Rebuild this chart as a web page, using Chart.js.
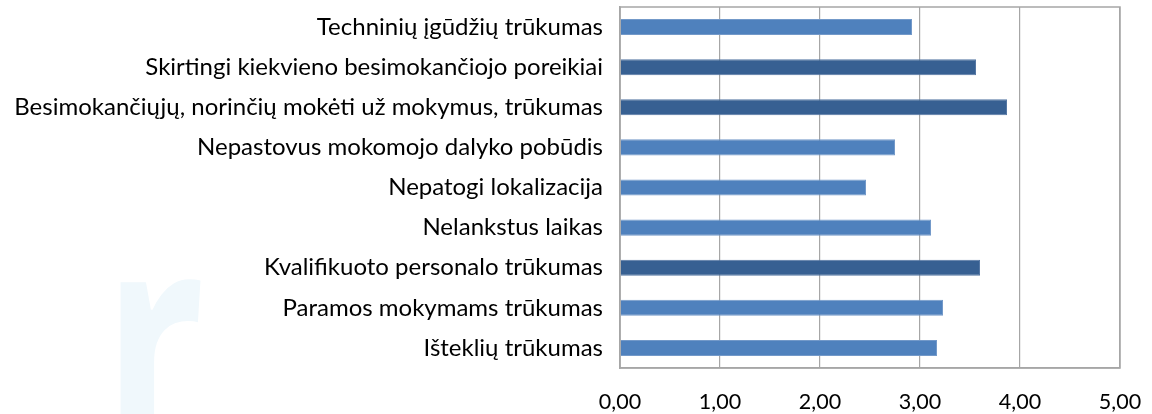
<!DOCTYPE html>
<html>
<head>
<meta charset="utf-8">
<script src="https://cdn.jsdelivr.net/npm/chart.js@4/dist/chart.umd.min.js"></script>
<style>
    html, body { margin: 0; padding: 0; background: #fff; }
    #wrap { width: 1152px; height: 414px; position: relative; }
</style>
</head>
<body>
<div id="wrap"><canvas id="chart"></canvas></div>
<script>
// kategorijos (iš viršaus į apačią)
const labels = [
    "Techninių įgūdžių trūkumas",
    "Skirtingi kiekvieno besimokančiojo poreikiai",
    "Besimokančiųjų, norinčių mokėti už mokymus, trūkumas",
    "Nepastovus mokomojo dalyko pobūdis",
    "Nepatogi lokalizacija",
    "Nelankstus laikas",
    "Kvalifikuoto personalo trūkumas",
    "Paramos mokymams trūkumas",
    "Išteklių trūkumas"
];
const values = [2.92, 3.56, 3.87, 2.75, 2.46, 3.11, 3.60, 3.23, 3.17];
// paryškinti stulpeliai
const highlighted = [false, true, true, false, false, false, true, false, false];
const xTicks = [0, 1, 2, 3, 4, 5];

const lightBlue = "#4f81bd";
const darkBlue = "#376092";

// blankus vandens ženklas fone
const watermark = {
    id: "watermark",
    beforeDraw(chart) {
        const ctx = chart.ctx;
        ctx.save();
        ctx.fillStyle = "#f0f8fc";
        ctx.font = "bold 300px 'Open Sans'";
        ctx.textBaseline = "alphabetic";
        ctx.translate(103, 446);
        ctx.scale(0.75, 1);
        ctx.fillText("r", 0, 0);
        ctx.restore();
    }
};

new Chart(document.getElementById("chart"), {
    type: "bar",
    data: {
        labels: labels,
        datasets: [{
            data: values,
            backgroundColor: highlighted.map((h) => (h ? darkBlue : lightBlue)),
            borderColor: highlighted.map((h) => (h ? "#5577a3" : "#7399c9")),
            borderWidth: 1,
            barPercentage: 0.4,
            categoryPercentage: 1
        }]
    },
    options: {
        indexAxis: "y",
        responsive: true,
        maintainAspectRatio: false,
        animation: false,
        layout: { padding: { top: 7, right: 32, left: 0, bottom: 0 } },
        plugins: {
            legend: { display: false },
            tooltip: { enabled: false }
        },
        scales: {
            x: {
                min: 0,
                max: 5,
                afterBuildTicks: (scale) => {
                    scale.ticks = xTicks.map((v) => ({ value: v }));
                },
                afterFit: (scale) => {
                    scale.height = 46;
                    scale.paddingLeft = 0;
                    scale.paddingRight = 0;
                },
                grid: { color: "#a6a6a6", lineWidth: 1.2, drawTicks: false },
                border: { color: "#a6a6a6", width: 1.5 },
                ticks: {
                    padding: 21,
                    color: "#000",
                    font: { family: "Lato", size: 21.5 },
                    callback: (v) => Number(v).toFixed(2).replace(".", ",")
                }
            },
            y: {
                afterFit: (scale) => {
                    scale.width = 620;
                    scale.paddingTop = 0;
                    scale.paddingBottom = 0;
                },
                grid: { display: false, drawTicks: false },
                border: { color: "#a6a6a6", width: 1.5 },
                ticks: {
                    padding: 17,
                    color: "#000",
                    font: { family: "Lato", size: 24 }
                }
            }
        }
    },
    plugins: [watermark, {
        // rėmelis aplink braižymo sritį
        id: "frame",
        afterDraw(chart) {
            const a = chart.chartArea;
            const ctx = chart.ctx;
            ctx.save();
            ctx.strokeStyle = "#a6a6a6";
            ctx.lineWidth = 1.5;
            ctx.strokeRect(a.left, a.top, a.right - a.left, a.bottom - a.top);
            ctx.restore();
        }
    }]
});
</script>
</body>
</html>
